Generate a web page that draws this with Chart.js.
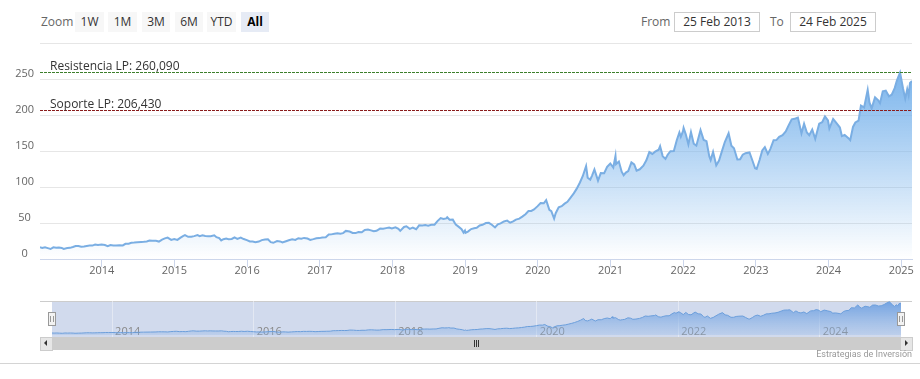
<!DOCTYPE html>
<html><head><meta charset="utf-8">
<script src="https://cdn.jsdelivr.net/npm/chart.js@4.4.1/dist/chart.umd.min.js"></script>
<style>
html,body{margin:0;padding:0;background:#fff;}
body{width:920px;height:379px;position:relative;overflow:hidden;font-family:"Open Sans","Noto Sans",sans-serif;}
.lbl{position:absolute;top:12px;height:20px;line-height:20px;font-size:12px;color:#666;}
.btn{position:absolute;top:12px;height:20px;line-height:20px;background:#f7f7f7;color:#333;font-size:12px;text-align:center;}
.btn.sel{background:#e6ebf5;color:#000;font-weight:bold;}
.inp{position:absolute;top:12px;height:20px;box-sizing:border-box;border:1px solid #ccc;font-size:12px;color:#333;text-align:center;line-height:18px;background:#fff;}
canvas{position:absolute;left:0;}
</style></head><body>
<div class="lbl" style="left:41px">Zoom</div>
<div class="btn" style="left:75px;width:29px">1W</div>
<div class="btn" style="left:108px;width:29px">1M</div>
<div class="btn" style="left:142px;width:28px">3M</div>
<div class="btn" style="left:175px;width:28px">6M</div>
<div class="btn" style="left:207px;width:29px">YTD</div>
<div class="btn sel" style="left:241px;width:28px">All</div>
<div class="lbl" style="left:641px">From</div>
<div class="inp" style="left:674px;width:86px">25 Feb 2013</div>
<div class="lbl" style="left:770px">To</div>
<div class="inp" style="left:790px;width:86px">24 Feb 2025</div>

<canvas id="main" width="920" height="290" style="top:0"></canvas>
<canvas id="nav" width="920" height="60" style="top:290px"></canvas>

<!-- scrollbar -->
<div style="position:absolute;left:40px;top:337px;width:872px;height:13px;background:#f2f2f2;"></div>
<div style="position:absolute;left:52px;top:337px;width:849px;height:13px;background:#cccccc;"></div>
<div style="position:absolute;left:40px;top:337px;width:11px;height:12px;background:#e6e6e6;border:1px solid #cccccc;"></div>
<div style="position:absolute;left:900px;top:337px;width:11px;height:12px;background:#e6e6e6;border:1px solid #cccccc;"></div>
<div style="position:absolute;left:44px;top:340px;width:0;height:0;border-top:3px solid transparent;border-bottom:3px solid transparent;border-right:3px solid #333;"></div>
<div style="position:absolute;left:905px;top:340px;width:0;height:0;border-top:3px solid transparent;border-bottom:3px solid transparent;border-left:3px solid #333;"></div>
<div style="position:absolute;left:474px;top:340px;width:1px;height:7px;background:#333;"></div>
<div style="position:absolute;left:476px;top:340px;width:1px;height:7px;background:#333;"></div>
<div style="position:absolute;left:478px;top:340px;width:1px;height:7px;background:#333;"></div>

<div style="position:absolute;right:8px;top:349px;font-family:Roboto,'Open Sans',sans-serif;font-size:9px;color:#999;">Estrategias de Inversión</div>
<div style="position:absolute;left:0;top:363px;width:920px;height:1px;background:#d4d4d4;"></div>

<script>
// ---- data ----
const startDate = '2013-02-25';
const endDate = '2025-02-24';
const dates = [
'2013-02-25','2013-03-08','2013-03-22','2013-04-05','2013-04-19','2013-05-03','2013-05-17','2013-05-31','2013-06-14','2013-06-24','2013-07-12','2013-07-26','2013-08-09','2013-08-23','2013-09-06','2013-09-20','2013-10-04','2013-10-18','2013-11-01','2013-11-15','2013-11-29','2013-12-13','2013-12-31',
'2014-01-17','2014-01-31','2014-02-14','2014-02-28','2014-03-14','2014-03-31','2014-04-17','2014-04-30','2014-05-16','2014-05-30','2014-06-13','2014-06-30','2014-07-18','2014-07-31','2014-08-15','2014-08-29','2014-09-12','2014-09-30','2014-10-15','2014-10-31','2014-11-14','2014-11-28','2014-12-16','2014-12-31',
'2015-01-16','2015-01-30','2015-02-13','2015-02-23','2015-03-11','2015-03-27','2015-04-10','2015-04-27','2015-05-08','2015-05-22','2015-06-05','2015-06-19','2015-07-02','2015-07-20','2015-07-31','2015-08-14','2015-08-24','2015-09-04','2015-09-18','2015-09-30','2015-10-16','2015-10-30','2015-11-13','2015-11-30','2015-12-15','2015-12-31',
'2016-01-15','2016-01-29','2016-02-12','2016-02-29','2016-03-15','2016-03-31','2016-04-15','2016-04-29','2016-05-12','2016-05-31','2016-06-15','2016-06-27','2016-07-15','2016-07-29','2016-08-15','2016-08-31','2016-09-15','2016-09-30','2016-10-14','2016-10-31','2016-11-14','2016-11-30','2016-12-15','2016-12-30',
'2017-01-13','2017-01-31','2017-02-15','2017-02-28','2017-03-15','2017-03-31','2017-04-14','2017-04-28','2017-05-12','2017-05-31','2017-06-15','2017-06-30','2017-07-14','2017-07-31','2017-08-15','2017-08-31','2017-09-15','2017-09-29','2017-10-13','2017-10-31','2017-11-15','2017-11-30','2017-12-15','2017-12-29',
'2018-01-16','2018-01-31','2018-02-09','2018-02-28','2018-03-12','2018-03-29','2018-04-13','2018-04-30','2018-05-15','2018-05-31','2018-06-15','2018-06-29','2018-07-16','2018-07-31','2018-08-15','2018-08-31','2018-09-14','2018-09-28','2018-10-03','2018-10-15','2018-10-31','2018-11-15','2018-11-30','2018-12-14','2018-12-24','2018-12-31',
'2019-01-03','2019-01-15','2019-01-31','2019-02-15','2019-02-28','2019-03-15','2019-03-29','2019-04-15','2019-04-30','2019-05-15','2019-05-31','2019-06-14','2019-06-28','2019-07-15','2019-07-31','2019-08-15','2019-08-30','2019-09-13','2019-09-30','2019-10-15','2019-10-31','2019-11-15','2019-11-29','2019-12-13','2019-12-31',
'2020-01-15','2020-01-31','2020-02-12','2020-02-28','2020-03-09','2020-03-23','2020-03-31','2020-04-15','2020-04-30','2020-05-15','2020-05-29','2020-06-15','2020-06-30','2020-07-15','2020-07-31','2020-08-14','2020-08-31','2020-09-08','2020-09-21','2020-09-30','2020-10-12','2020-10-30','2020-11-13','2020-11-30','2020-12-15','2020-12-31',
'2021-01-15','2021-01-26','2021-01-29','2021-02-12','2021-02-26','2021-03-08','2021-03-19','2021-03-31','2021-04-16','2021-04-30','2021-05-12','2021-05-28','2021-06-15','2021-06-30','2021-07-15','2021-07-30','2021-08-13','2021-08-31','2021-09-07','2021-09-20','2021-10-04','2021-10-15','2021-10-29','2021-11-15','2021-11-30','2021-12-13','2021-12-20','2021-12-31',
'2022-01-03','2022-01-14','2022-01-27','2022-02-09','2022-02-23','2022-03-08','2022-03-29','2022-04-14','2022-04-28','2022-05-12','2022-05-19','2022-05-31','2022-06-16','2022-06-30','2022-07-15','2022-07-29','2022-08-17','2022-08-31','2022-09-13','2022-09-30','2022-10-14','2022-10-27','2022-11-10','2022-11-30','2022-12-15','2022-12-28',
'2023-01-05','2023-01-20','2023-02-02','2023-02-15','2023-03-02','2023-03-15','2023-03-31','2023-04-14','2023-04-28','2023-05-15','2023-05-31','2023-06-15','2023-06-30','2023-07-19','2023-07-31','2023-08-18','2023-08-31','2023-09-14','2023-09-26','2023-10-11','2023-10-26','2023-11-15','2023-11-30','2023-12-14','2023-12-29',
'2024-01-05','2024-01-24','2024-02-09','2024-02-27','2024-03-08','2024-03-22','2024-04-10','2024-04-19','2024-05-03','2024-05-15','2024-05-31','2024-06-12','2024-06-28','2024-07-16','2024-07-25','2024-08-05','2024-08-22','2024-09-06','2024-09-16','2024-09-30','2024-10-15','2024-10-31','2024-11-14','2024-11-29','2024-12-10','2024-12-26',
'2025-01-10','2025-01-21','2025-01-31','2025-02-07','2025-02-14','2025-02-24'
];
const prices = [
16.2,15.4,16.2,15.1,13.9,16.2,15.5,16.0,15.4,14.0,15.2,15.5,16.6,17.9,17.9,16.9,17.3,18.1,18.6,18.6,20.0,19.6,20.0,
19.4,17.9,19.5,18.8,18.8,19.2,18.8,21.1,21.3,22.6,22.8,23.2,23.6,23.8,24.3,25.6,25.4,25.2,24.2,27.0,28.6,29.7,26.6,27.6,
26.5,29.3,31.8,33.1,30.8,30.8,31.8,33.2,31.8,33.0,32.0,31.7,31.6,33.0,30.3,29.0,25.8,27.5,28.3,27.6,27.8,30.0,28.0,29.8,27.7,26.3,
24.3,24.3,23.4,24.2,26.2,27.2,27.4,23.4,22.5,24.9,24.4,23.0,24.7,26.0,27.4,26.5,28.9,28.3,29.3,28.4,26.5,27.6,28.8,29.0,
29.8,30.3,33.9,34.2,35.0,35.9,35.2,35.9,39.0,38.2,36.2,36.0,37.4,37.2,40.4,41.0,39.7,38.5,39.2,42.3,42.1,42.9,43.6,42.3,
44.0,41.9,39.1,44.5,45.4,41.9,43.7,41.3,46.8,46.7,47.2,46.3,47.5,47.6,52.6,56.9,55.5,56.4,58.0,54.6,54.7,47.7,44.6,41.4,36.7,39.4,
36.5,38.1,41.6,42.6,43.3,46.5,47.5,49.9,50.2,47.6,43.8,48.2,49.5,52.2,53.3,50.4,52.2,54.7,56.0,58.8,62.2,66.6,66.8,68.8,73.4,
77.8,77.4,81.8,68.3,66.5,56.1,63.6,71.8,73.4,76.9,79.5,85.7,91.2,97.7,106.3,115.0,129.0,113.0,110.1,115.8,124.4,108.9,119.3,119.1,127.9,132.7,
127.1,143.2,131.9,135.4,121.3,116.4,120.0,122.2,134.2,131.5,122.8,124.6,129.6,137.0,148.5,145.9,149.1,151.8,156.7,142.9,139.1,144.8,149.8,150.0,165.3,175.7,169.8,177.6,
182.0,173.1,159.2,176.3,160.1,157.4,179.0,165.3,163.6,142.6,137.4,148.8,130.1,136.7,150.2,162.5,174.6,157.2,153.8,138.2,138.4,144.8,146.9,148.0,136.5,126.0,
125.0,137.9,150.8,155.3,145.9,153.0,164.9,165.2,169.7,172.1,177.3,186.0,194.0,195.1,196.4,174.5,187.9,175.7,172.0,179.8,166.9,188.0,189.9,198.1,192.5,
181.2,194.5,188.9,182.6,170.7,172.3,167.8,165.0,183.4,189.7,192.3,213.1,210.6,234.8,217.5,209.3,224.5,220.8,216.3,233.0,233.9,225.9,228.2,237.3,247.8,259.0,
236.9,222.6,236.0,227.6,244.6,247.1
];
const yTicks = [0, 50, 100, 150, 200, 250, 300];
const yearTicks = [2014, 2015, 2016, 2017, 2018, 2019, 2020, 2021, 2022, 2023, 2024, 2025];
const navYearTicks = [2014, 2016, 2018, 2020, 2022, 2024];
const plotLineValues = [260.09, 206.43];
const plotLineLabels = ['Resistencia LP: 260,090', 'Soporte LP: 206,430'];
const plotLineColors = ['#3d7f2c', '#8b1c1c'];

// ---- helpers ----
function decYear(s) {
  const [y, m, d] = s.split('-').map(Number);
  const t = Date.UTC(y, m - 1, d), a = Date.UTC(y, 0, 1), b = Date.UTC(y + 1, 0, 1);
  return y + (t - a) / (b - a);
}
const points = dates.map((d, i) => ({ x: decYear(d), y: prices[i] }));
const xMin = decYear(startDate), xMax = decYear(endDate);
const maxPrice = Math.max(...prices);
const FONT = '"Open Sans","Noto Sans",sans-serif';

const plotLinesPlugin = {
  id: 'plotLines',
  afterDatasetsDraw(chart) {
    const { ctx, chartArea, scales } = chart;
    ctx.save();
    plotLineValues.forEach((v, i) => {
      const y = Math.round(scales.y.getPixelForValue(v)) + 0.5;
      ctx.strokeStyle = plotLineColors[i];
      ctx.lineWidth = 1;
      ctx.setLineDash([3, 1]);
      ctx.beginPath();
      ctx.moveTo(chartArea.left, y);
      ctx.lineTo(chartArea.right, y);
      ctx.stroke();
      ctx.setLineDash([]);
      ctx.fillStyle = '#333';
      ctx.font = '12px ' + FONT;
      ctx.textBaseline = 'alphabetic';
      ctx.fillText(plotLineLabels[i], chartArea.left + 10, y - 3);
    });
    ctx.restore();
  }
};

function areaGradient(context, topColor, bottomColor) {
  const { chart } = context;
  const { ctx, chartArea, scales } = chart;
  if (!chartArea) return topColor;
  const top = scales.y.getPixelForValue(maxPrice);
  const g = ctx.createLinearGradient(0, top, 0, chartArea.bottom);
  g.addColorStop(0, topColor);
  g.addColorStop(1, bottomColor);
  return g;
}

new Chart(document.getElementById('main'), {
  type: 'line',
  data: { datasets: [{
    data: points,
    borderColor: '#7aaee3',
    borderWidth: 2,
    pointRadius: 0,
    tension: 0,
    fill: 'origin',
    backgroundColor: (c) => areaGradient(c, 'rgba(124,181,236,1)', 'rgba(124,181,236,0)')
  }]},
  options: {
    responsive: false, animation: false, devicePixelRatio: 1,
    layout: { padding: { left: 0, top: 43, right: 8, bottom: 0 } },
    plugins: { legend: { display: false }, tooltip: { enabled: false } },
    scales: {
      x: {
        type: 'linear', min: xMin, max: xMax,
        afterBuildTicks: (s) => { s.ticks = yearTicks.map(v => ({ value: v })); },
        afterFit: (s) => { s.height = 31; },
        grid: { display: true, drawOnChartArea: false, drawTicks: true, tickLength: 8, color: '#ccd6eb' },
        border: { display: true, color: '#ccd6eb' },
        ticks: { autoSkip: false, maxRotation: 0, padding: -3, color: '#666', font: { size: 11, family: FONT },
          callback: (v) => String(v) }
      },
      y: {
        min: 0, max: 300,
        afterBuildTicks: (s) => { s.ticks = yTicks.map(v => ({ value: v })); },
        afterFit: (s) => { s.width = 40; },
        grid: { color: '#e6e6e6', drawTicks: false },
        border: { display: false },
        ticks: { crossAlign: 'center', padding: 6, labelOffset: -5, color: '#666', font: { size: 11, family: FONT },
          callback: (v) => (v === 300 ? '' : String(v)) }
      }
    }
  },
  plugins: [plotLinesPlugin]
});

const navPlugin = {
  id: 'navDeco',
  beforeDraw(chart) {
    const { ctx, chartArea } = chart;
    ctx.save();
    ctx.fillStyle = 'rgba(102,133,194,0.3)';
    ctx.fillRect(chartArea.left, chartArea.top, chartArea.right - chartArea.left, chartArea.bottom - chartArea.top);
    ctx.strokeStyle = '#cccccc';
    ctx.lineWidth = 1;
    ctx.beginPath();
    ctx.moveTo(40, chartArea.top + 0.5);
    ctx.lineTo(912, chartArea.top + 0.5);
    ctx.stroke();
    ctx.restore();
  },
  afterDraw(chart) {
    const { ctx, chartArea } = chart;
    const cy = (chartArea.top + chartArea.bottom) / 2;
    ctx.save();
    [chartArea.left, chartArea.right].forEach((x) => {
      x = Math.round(x);
      ctx.fillStyle = '#f2f2f2';
      ctx.strokeStyle = '#999999';
      ctx.lineWidth = 1;
      ctx.fillRect(x - 4, cy - 7, 8, 14);
      ctx.strokeRect(x - 3.5, cy - 6.5, 7, 13);
      ctx.beginPath();
      ctx.moveTo(x - 1.5, cy - 3); ctx.lineTo(x - 1.5, cy + 3);
      ctx.moveTo(x + 1.5, cy - 3); ctx.lineTo(x + 1.5, cy + 3);
      ctx.stroke();
    });
    ctx.restore();
  }
};

new Chart(document.getElementById('nav'), {
  type: 'line',
  data: { datasets: [{
    data: points,
    borderColor: '#6b9edb',
    borderWidth: 1,
    pointRadius: 0,
    tension: 0,
    fill: 'origin',
    backgroundColor: (c) => areaGradient(c, 'rgba(110,160,225,0.95)', 'rgba(140,180,230,0.25)')
  }]},
  options: {
    responsive: false, animation: false, devicePixelRatio: 1,
    layout: { padding: { left: 52, top: 11, right: 19, bottom: 0 } },
    plugins: { legend: { display: false }, tooltip: { enabled: false } },
    scales: {
      x: {
        type: 'linear', min: xMin, max: xMax, z: 1,
        afterBuildTicks: (s) => { s.ticks = navYearTicks.map(v => ({ value: v })); },
        afterFit: (s) => { s.height = 13; },
        grid: { display: true, drawOnChartArea: true, drawTicks: false, color: 'rgba(235,238,246,0.7)' },
        border: { display: false },
        ticks: { autoSkip: false, maxRotation: 0, align: 'start', mirror: true, labelOffset: 3, padding: -1, color: '#888', font: { size: 11, family: FONT },
          callback: (v) => String(v) }
      },
      y: { display: false, min: -15, max: 265 }
    }
  },
  plugins: [navPlugin]
});
</script>
</body></html>
